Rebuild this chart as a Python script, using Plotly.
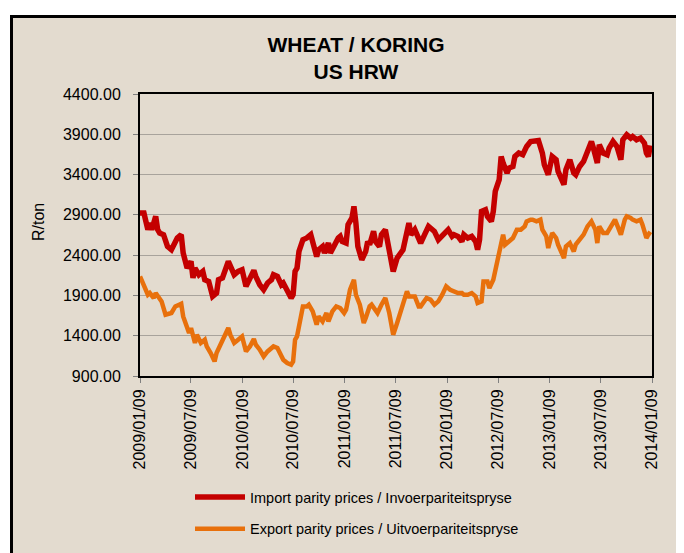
import pandas as pd
import plotly.graph_objects as go

# ---- data (weeks since 2009/01/09, values in R/ton) ----
start_date = "2009-01-09"

import_weeks = [0, 2, 4, 5, 6, 8, 9, 10, 12, 14, 16, 17, 19, 21, 22, 24, 26, 27, 28, 30,
                32, 33, 35, 37, 39, 40, 42, 45, 46, 48, 50, 52, 54, 56, 58, 59, 61, 63, 65, 67,
                68, 70, 72, 73, 75, 77, 78, 79, 80, 81, 83, 85, 87, 88, 90, 91, 93, 94, 96, 97,
                99, 101, 102, 103, 105, 106, 108, 109, 110, 111, 113, 115, 116, 117, 119, 120, 122, 123, 125, 127,
                129, 131, 134, 137, 138, 140, 142, 143, 145, 147, 148, 150, 152, 154, 155, 157, 159, 160, 162, 164,
                165, 167, 169, 171, 172, 173, 174, 176, 177, 179, 180, 181, 183, 184, 185, 187, 188, 190, 191, 193,
                195, 197, 199, 201, 203, 205, 206, 208, 210, 212, 213, 216, 217, 219, 221, 222, 224, 226, 228, 230,
                231, 233, 234, 236, 238, 239, 241, 243, 245, 246, 248, 250, 251, 253, 255, 257, 258, 259, 260]
import_prices = [2923, 2923, 2716, 2799, 2716, 2881, 2716, 2675, 2654, 2508, 2467, 2508, 2613, 2654, 2426, 2240, 2322, 2116, 2240, 2157,
                 2198, 2095, 2074, 1888, 1930, 2095, 2116, 2322, 2260, 2157, 2198, 2219, 2012, 2095, 2210, 2136, 2033, 1971, 2054, 2095,
                 2157, 2136, 2033, 2054, 1950, 1868, 1909, 2198, 2240, 2446, 2592, 2613, 2654, 2570, 2384, 2467, 2508, 2426, 2550, 2426,
                 2530, 2613, 2633, 2570, 2550, 2778, 2861, 3005, 2799, 2508, 2343, 2446, 2570, 2530, 2695, 2570, 2508, 2654, 2716, 2488,
                 2198, 2364, 2467, 2799, 2654, 2716, 2570, 2550, 2654, 2757, 2737, 2695, 2592, 2633, 2675, 2716, 2633, 2654, 2633, 2570,
                 2654, 2613, 2633, 2570, 2467, 2592, 2943, 2964, 2881, 2819, 2943, 3191, 3336, 3625, 3543, 3419, 3481, 3501, 3625, 3667,
                 3646, 3749, 3811, 3811, 3824, 3667, 3522, 3398, 3625, 3584, 3439, 3274, 3460, 3584, 3419, 3398, 3501, 3563, 3708, 3811,
                 3729, 3543, 3770, 3667, 3646, 3729, 3811, 3749, 3584, 3832, 3894, 3853, 3873, 3832, 3853, 3791, 3667, 3625, 3760]

export_weeks = [0, 2, 4, 5, 7, 8, 10, 11, 13, 15, 16, 18, 21, 22, 25, 26, 28, 29, 31, 33,
                34, 36, 38, 39, 41, 43, 45, 46, 48, 50, 52, 54, 56, 58, 59, 61, 63, 65, 67, 68,
                70, 72, 73, 75, 77, 78, 79, 80, 82, 83, 85, 86, 88, 90, 91, 93, 95, 96, 98, 100,
                102, 104, 105, 107, 109, 110, 112, 114, 115, 117, 118, 120, 121, 123, 125, 127, 129, 131, 132, 136,
                137, 140, 142, 143, 146, 148, 150, 152, 154, 156, 158, 160, 162, 164, 165, 167, 169, 171, 172, 174,
                175, 177, 178, 180, 182, 184, 185, 186, 188, 190, 192, 194, 196, 197, 199, 200, 202, 204, 205, 207,
                208, 210, 212, 213, 216, 217, 219, 221, 222, 224, 226, 228, 230, 232, 233, 234, 236, 238, 240, 242,
                243, 245, 247, 248, 250, 251, 253, 255, 256, 258, 259, 260]
export_prices = [2136, 2012, 1909, 1930, 1868, 1930, 1847, 1826, 1661, 1682, 1682, 1764, 1797, 1640, 1434, 1496, 1310, 1413, 1310, 1350,
                 1267, 1185, 1081, 1185, 1288, 1372, 1496, 1413, 1310, 1350, 1391, 1205, 1267, 1360, 1288, 1226, 1143, 1205, 1247, 1267,
                 1247, 1143, 1102, 1061, 1040, 1081, 1350, 1391, 1640, 1764, 1764, 1785, 1702, 1537, 1640, 1578, 1682, 1578, 1702, 1764,
                 1744, 1682, 1723, 1971, 2095, 1909, 1785, 1558, 1620, 1764, 1785, 1702, 1682, 1785, 1868, 1682, 1413, 1558, 1640, 1950,
                 1888, 1888, 1764, 1764, 1868, 1847, 1785, 1826, 1909, 2012, 1971, 1950, 1930, 1930, 1909, 1909, 1930, 1888, 1806, 1826,
                 2074, 2074, 1992, 2095, 2302, 2550, 2654, 2530, 2570, 2613, 2716, 2716, 2757, 2819, 2840, 2840, 2819, 2840, 2716, 2633,
                 2488, 2675, 2613, 2530, 2364, 2508, 2550, 2446, 2530, 2592, 2654, 2757, 2819, 2716, 2550, 2757, 2675, 2675, 2757, 2840,
                 2778, 2654, 2840, 2881, 2861, 2840, 2819, 2840, 2778, 2613, 2654, 2690]

tick_dates = ["2009-01-09", "2009-07-09", "2010-01-09", "2010-07-09", "2011-01-09", "2011-07-09",
              "2012-01-09", "2012-07-09", "2013-01-09", "2013-07-09", "2014-01-09"]
y_ticks = [900, 1400, 1900, 2400, 2900, 3400, 3900, 4400]

# ---- build ----
base = pd.Timestamp(start_date)
import_dates = [base + pd.Timedelta(days=7 * w) for w in import_weeks]
export_dates = [base + pd.Timedelta(days=7 * w) for w in export_weeks]

OFF = 8  # page body margin
W, H = 684 - OFF, 553 - OFF
L, T = 140 - OFF, 94 - OFF
pw, ph = 512, 282
R, B = W - L - pw, H - T - ph

def px(rx):  # screen x -> paper fraction
    return (rx - OFF - L) / pw

def py(ry):  # screen y -> paper fraction
    return (T + ph - (ry - OFF)) / ph

FONT = "Liberation Sans, Arial, sans-serif"
BG = "#E3DBCF"

fig = go.Figure()
fig.add_trace(go.Scatter(x=import_dates, y=import_prices, mode="lines",
                         name="Import parity prices / Invoerpariteitspryse",
                         line=dict(color="#C40000", width=5.5), legendgroup="a"))
fig.add_trace(go.Scatter(x=export_dates, y=export_prices, mode="lines",
                         name="Export parity prices / Uitvoerpariteitspryse",
                         line=dict(color="#E8700C", width=4.5), legendgroup="b"))

# white margin strips outside the textured frame (top and left), plus frame lines
frame_shapes = [
    dict(type="rect", xref="paper", yref="paper",
         x0=px(0), x1=px(760), y0=py(16.5), y1=py(-20),
         fillcolor="white", line=dict(width=0), layer="below"),
    dict(type="rect", xref="paper", yref="paper",
         x0=px(-20), x1=px(11.5), y0=py(640), y1=py(-20),
         fillcolor="white", line=dict(width=0), layer="below"),
    dict(type="line", xref="paper", yref="paper",
         x0=px(11.5), x1=px(11.5), y0=py(640), y1=py(15),
         line=dict(color="black", width=3), layer="below"),
    dict(type="line", xref="paper", yref="paper",
         x0=px(10), x1=px(760), y0=py(16.5), y1=py(16.5),
         line=dict(color="black", width=3), layer="below"),
]

fig.update_layout(
    width=W, height=H,
    margin=dict(l=L, r=R, t=T, b=B, autoexpand=False),
    paper_bgcolor=BG,
    plot_bgcolor="rgba(0,0,0,0)",
    font=dict(family=FONT, size=16, color="black"),
    title=dict(text="<b>WHEAT / KORING</b><br><b>US HRW</b>",
               x=(356 - OFF) / W, xanchor="center", y=1 - 44 / H, yanchor="top",
               xref="container", yref="container",
               font=dict(family=FONT, size=21, color="black")),
    showlegend=True,
    legend=dict(x=px(190), y=py(481), xanchor="left", yanchor="top",
                bgcolor="rgba(0,0,0,0)", font=dict(family=FONT, size=14.5),
                tracegroupgap=10, traceorder="grouped", itemwidth=50),
    shapes=frame_shapes,
    annotations=[dict(text="R/ton", textangle=-90, xref="paper", yref="paper",
                      x=px(38), y=py(222), xanchor="center", yanchor="middle",
                      showarrow=False, font=dict(family=FONT, size=16))],
)
fig.update_xaxes(type="date", range=[tick_dates[0], tick_dates[-1]],
                 tickvals=tick_dates, tickformat="%Y/%m/%d", tickangle=-90,
                 ticks="outside", ticklen=5, tickcolor="#808080",
                 showline=True, linecolor="black", linewidth=2, mirror=True,
                 showgrid=False, zeroline=False,
                 tickfont=dict(family=FONT, size=16))
fig.update_yaxes(range=[900, 4400], tickvals=y_ticks, tickformat=".2f",
                 ticks="outside", ticklen=5, tickcolor="#808080",
                 showline=True, linecolor="black", linewidth=2, mirror=True,
                 showgrid=True, gridcolor="#A8A39C", gridwidth=1, zeroline=False,
                 ticklabelstandoff=9,
                 tickfont=dict(family=FONT, size=16))

fig.write_html("out.html",
               post_script="document.documentElement.style.overflow='hidden';"
                           "document.body.style.overflow='hidden';")
